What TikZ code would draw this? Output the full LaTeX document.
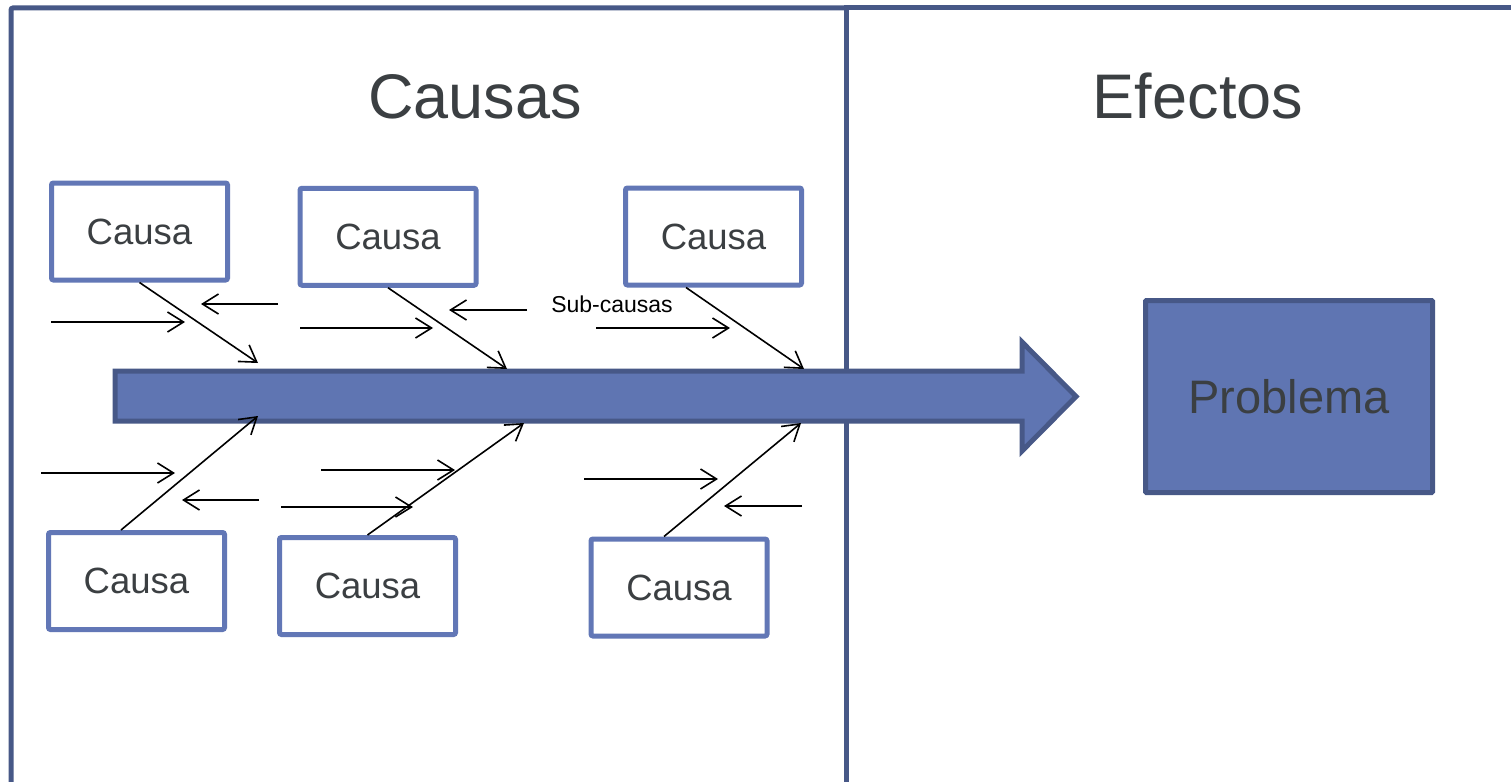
\documentclass[tikz,border=0pt]{standalone}
\usepackage{fontspec}
\setmainfont{Liberation Sans}
\usetikzlibrary{arrows.meta,calc}
\definecolor{panelline}{RGB}{71,88,135}
\definecolor{causeline}{RGB}{98,119,182}
\definecolor{spinefill}{RGB}{95,117,178}
\definecolor{labelgray}{RGB}{59,63,66}
\begin{document}
\begin{tikzpicture}[x=1pt,y=-1pt,
  panel/.style={draw=panelline,line width=5pt},
  causebox/.style={draw=causeline,fill=white,line width=5pt,rounded corners=2pt,
    minimum width=176pt,minimum height=97pt,inner sep=0pt,text=labelgray,
    font=\fontsize{36.5}{40}\selectfont},
  title/.style={text=labelgray,font=\fontsize{63}{70}\selectfont,inner sep=0pt},
  bone/.style={draw=black,line width=1.6pt,-{Straight Barb[length=16pt,width=20pt]}},
  subcause/.style={bone}
]
\useasboundingbox (0,0) rectangle (1511,781);
\clip (0,0) rectangle (1511,781);
\fill[white] (0,0) rectangle (1511,781);

% two panels
\draw[panel,rounded corners=2pt] (11,800) -- (11,8) -- (846,8);
\draw[panel] (846,800) -- (846,8) -- (1530,8);

% headings
\node[title,anchor=base] (causas) at (475,118) {Causas};
\node[title,anchor=base] (efectos) at (1198,119) {Efectos};

% fish spine (big arrow)
\coordinate (spinetail) at (115,396);
\coordinate (spinetip) at (1076,396.5);
\draw[draw=panelline,fill=spinefill,line width=5pt,line join=miter]
  (115,371) -- (1022,371) -- (1022,342) -- (spinetip) -- (1022,451)
  -- (1022,421) -- (115,421) -- cycle;

% effect
\node[draw=panelline,fill=spinefill,line width=5pt,rounded corners=1pt,
  minimum width=287pt,minimum height=192pt,inner sep=0pt,text=labelgray,
  font=\fontsize{47}{50}\selectfont] (problema) at (1289,396.5) {Problema};

% cause boxes
\node[causebox] (c1) at (139.5,231.5) {Causa};
\node[causebox] (c2) at (388,236.75) {Causa};
\node[causebox] (c3) at (713.5,236.5) {Causa};
\node[causebox] (c4) at (136.5,581) {Causa};
\node[causebox] (c5) at (367.5,586) {Causa};
\node[causebox] (c6) at (679,587.5) {Causa};

% bone end points on the spine
\coordinate (e1) at (258,363);
\coordinate (e2) at (507,369);
\coordinate (e3) at (804,369);
\coordinate (e4) at (258,416);
\coordinate (e5) at (524,423);
\coordinate (e6) at (801,423);

\draw[bone] (c1.south) -- (e1);
\draw[bone] (c2.south) -- (e2);
\draw[bone] ($(c3.south)+(-27.5,0)$) -- (e3);
\draw[bone] ($(c4.north)+(-15.5,0)$) -- (e4);
\draw[bone] (c5.north) -- (e5);
\draw[bone] ($(c6.north)+(-15,0)$) -- (e6);

% sub-cause arrows
\coordinate (sa0) at (51,322);  \coordinate (sa1) at (185,322);
\coordinate (sb0) at (278,304); \coordinate (sb1) at (201,304);
\coordinate (sc0) at (300,328); \coordinate (sc1) at (433,328);
\coordinate (sd0) at (527,310); \coordinate (sd1) at (449,310);
\coordinate (se0) at (596,328); \coordinate (se1) at (730,328);
\coordinate (sf0) at (41,473);  \coordinate (sf1) at (175,473);
\coordinate (sg0) at (259,500); \coordinate (sg1) at (182,500);
\coordinate (sh0) at (321,470); \coordinate (sh1) at (455,470);
\coordinate (si0) at (281,507); \coordinate (si1) at (413,507);
\coordinate (sj0) at (584,479); \coordinate (sj1) at (718,479);
\coordinate (sk0) at (802,506); \coordinate (sk1) at (724,506);
\foreach \s in {a,b,c,d,e,f,g,h,i,j,k}
  \draw[subcause] (s\s0) -- (s\s1);

\node[inner sep=0pt,font=\fontsize{23}{26}\selectfont] (sublabel) at (612,304) {Sub-causas};
\end{tikzpicture}
\end{document}
